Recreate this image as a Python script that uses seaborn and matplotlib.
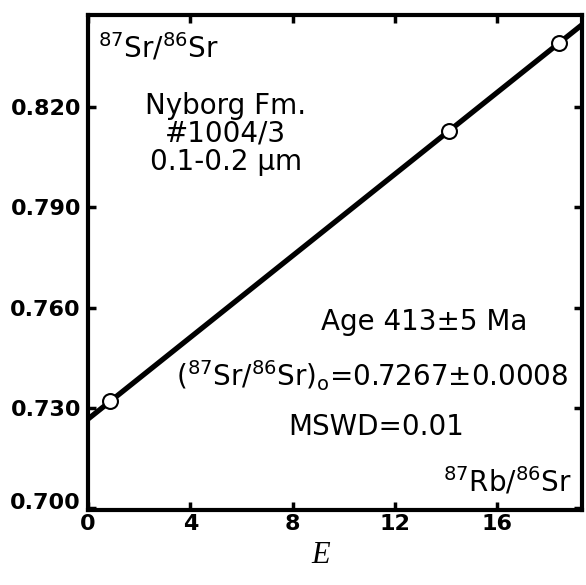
import numpy as np
import pandas as pd
import matplotlib
matplotlib.use("Agg")
import matplotlib.pyplot as plt
import matplotlib.transforms as mtransforms
import seaborn as sns

# Rb-Sr isochron data, Nyborg Fm. #1004/3 (0.1-0.2 um fraction)
rb_sr = [0.86, 14.1, 18.4]
sr_sr = [0.7320, 0.8129, 0.8391]
intercept = 0.7267
slope = 0.00611

x_ticks = [0, 4, 8, 12, 16]
y_ticks = [0.700, 0.730, 0.760, 0.790, 0.820]

sns.set_style("ticks")
plt.rcParams["font.family"] = ["DejaVu Sans"]
plt.rcParams["mathtext.fontset"] = "dejavusans"
plt.rcParams["text.color"] = "black"
plt.rcParams["axes.edgecolor"] = "black"
plt.rcParams["xtick.color"] = "black"
plt.rcParams["ytick.color"] = "black"
plt.rcParams["axes.labelcolor"] = "black"

fig = plt.figure(figsize=(5.86, 5.85), dpi=100)
ax = fig.add_axes([0.150, 0.128, 0.843, 0.846])

xlim = (0, 19.3)
ylim = (0.6995, 0.8475)
ax.set_xlim(*xlim)
ax.set_ylim(*ylim)

# isochron line across the full x range
line_x = np.linspace(xlim[0], xlim[1], 50)
line_df = pd.DataFrame({"x": line_x, "y": intercept + slope * line_x})
sns.lineplot(data=line_df, x="x", y="y", ax=ax, color="black", linewidth=3.8, zorder=2)

pts = pd.DataFrame({"rb": rb_sr, "sr": sr_sr})
sns.scatterplot(data=pts, x="rb", y="sr", ax=ax, s=115, facecolor="white",
                edgecolor="black", linewidth=1.5, zorder=3)

ax.set_xticks(x_ticks)
ax.set_yticks(y_ticks)
ax.set_xticklabels([str(t) for t in x_ticks], fontsize=16, fontweight="bold")
ax.set_yticklabels([f"{t:.3f}" for t in y_ticks], fontsize=16, fontweight="bold")
ax.tick_params(direction="in", length=6, width=2.5, top=True, right=True)
ax.tick_params(axis="y", pad=5)
ax.tick_params(axis="x", pad=3)
for sp in ax.spines.values():
    sp.set_linewidth(3.0)

# lift the lowest y label clear of the corner
lab0 = ax.get_yticklabels()[0]
lab0.set_transform(lab0.get_transform() +
                   mtransforms.ScaledTranslation(0, 7 / 100, fig.dpi_scale_trans))

ax.set_xlabel("E", fontsize=22, family="Liberation Serif", style="italic")
ax.xaxis.set_label_coords(0.472, -0.062)
ax.set_ylabel("")

fs = 20
ax.text(0.02, 0.935, r"$^{87}$Sr/$^{86}$Sr", transform=ax.transAxes, fontsize=fs,
        ha="left", va="center")
ax.text(0.279, 0.76, "Nyborg Fm.\n#1004/3\n0.1-0.2 µm", transform=ax.transAxes,
        fontsize=fs, ha="center", va="center", linespacing=1.0)
ax.text(0.68, 0.38, "Age 413±5 Ma", transform=ax.transAxes, fontsize=fs,
        ha="center", va="center")
ax.text(0.972, 0.272, r"($^{87}$Sr/$^{86}$Sr)$_{\rm o}$=0.7267±0.0008",
        transform=ax.transAxes, fontsize=fs, ha="right", va="center")
ax.text(0.583, 0.168, "MSWD=0.01", transform=ax.transAxes, fontsize=fs,
        ha="center", va="center")
ax.text(0.98, 0.058, r"$^{87}$Rb/$^{86}$Sr", transform=ax.transAxes, fontsize=fs,
        ha="right", va="center")

fig.savefig("out.png", dpi=100)
